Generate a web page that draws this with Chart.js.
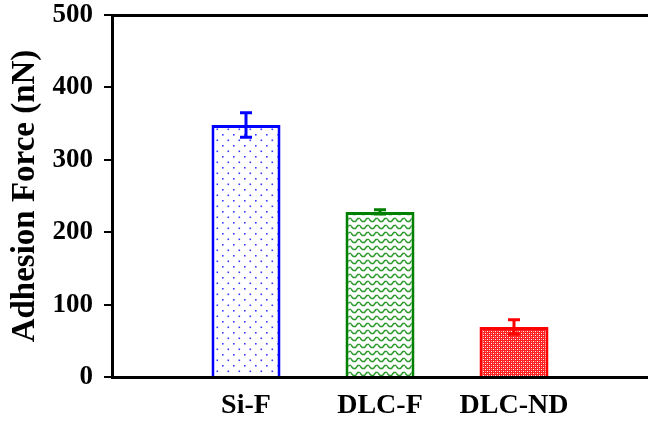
<!DOCTYPE html>
<html>
<head>
<meta charset="utf-8">
<script src="https://cdn.jsdelivr.net/npm/chart.js@4"></script>
<style>
  html, body { margin: 0; padding: 0; background: #ffffff; }
  #wrap { width: 648px; height: 423px; }
</style>
</head>
<body>
<div id="wrap"><canvas id="chart" width="648" height="423"></canvas></div>
<script>
// Sample categories (blank slots at both ends keep the bars off the axes)
const categories = ['', 'Si-F', 'DLC-F', 'DLC-ND', ''];
// Mean adhesion force (nN) and its spread
const adhesionForce = [null, 348, 228, 69, null];
const adhesionError = [null, 17, 3, 10, null];
const yTicks = [0, 100, 200, 300, 400, 500];

const edgeColors = [null, '#0000ff', '#008000', '#ff0000', null];

const ctx = document.getElementById('chart').getContext('2d');

function tile(w, h, paint) {
  const c = document.createElement('canvas');
  c.width = w; c.height = h;
  const g = c.getContext('2d');
  g.fillStyle = '#ffffff';
  g.fillRect(0, 0, w, h);
  paint(g);
  return ctx.createPattern(c, 'repeat');
}

// Blue stippled fill
const dotFill = tile(11, 11, g => {
  g.fillStyle = '#3a3aff';
  g.fillRect(2, 2, 1.6, 1.6);
  g.fillRect(7.5, 7.5, 1.6, 1.6);
});

// Green wavy fill
const waveFill = tile(9, 7, g => {
  g.strokeStyle = '#2f9b2f';
  g.lineWidth = 1.5;
  g.beginPath();
  g.moveTo(-0.5, 1.5);
  g.lineTo(2.25, 4.5);
  g.lineTo(4.5, 4.5);
  g.lineTo(6.75, 1.5);
  g.lineTo(9.5, 1.5);
  g.stroke();
});

// Red fine mesh fill
const meshFill = tile(4, 4, g => {
  g.fillStyle = '#ff2020';
  g.fillRect(0, 0, 4, 4);
  g.fillStyle = '#ffffff';
  g.fillRect(1, 1, 1, 1);
  g.fillRect(3, 3, 1, 1);
  g.fillStyle = '#ff8a8a';
  g.fillRect(3, 1, 1, 1);
  g.fillRect(1, 3, 1, 1);
});

const fills = [null, dotFill, waveFill, meshFill, null];

const FONT = '"Liberation Serif", "Times New Roman", serif';

function noPad(s) {
  s.paddingTop = 0; s.paddingBottom = 0;
  s.paddingLeft = 0; s.paddingRight = 0;
}

// Vertical error bars with caps, drawn in each bar's edge colour
const errorBars = {
  id: 'errorBars',
  afterDatasetsDraw(chart) {
    const meta = chart.getDatasetMeta(0);
    const y = chart.scales.y;
    const g = chart.ctx;
    g.save();
    adhesionForce.forEach((v, i) => {
      if (v === null) return;
      const e = adhesionError[i];
      const x = meta.data[i].x;
      const top = y.getPixelForValue(v + e);
      const bot = y.getPixelForValue(v - e);
      g.strokeStyle = edgeColors[i];
      g.lineWidth = 3;
      g.beginPath();
      g.moveTo(x, top); g.lineTo(x, bot);
      g.moveTo(x - 6, top); g.lineTo(x + 6, top);
      g.moveTo(x - 6, bot); g.lineTo(x + 6, bot);
      g.stroke();
    });
    g.restore();
  }
};

new Chart(ctx, {
  type: 'bar',
  data: {
    labels: categories,
    datasets: [{
      data: adhesionForce,
      backgroundColor: fills,
      borderColor: edgeColors,
      borderWidth: 3,
      borderSkipped: 'start',
      categoryPercentage: 1,
      barPercentage: 0.515
    }]
  },
  options: {
    responsive: false,
    animation: false,
    layout: { padding: 0 },
    plugins: { legend: { display: false }, tooltip: { enabled: false } },
    scales: {
      x: {
        offset: false,
        grid: { display: false, drawTicks: false },
        border: { display: true, color: '#000000', width: 3 },
        ticks: {
          color: '#000000',
          padding: 12,
          maxRotation: 0,
          autoSkip: false,
          font: { family: FONT, size: 28, weight: 'bold' }
        },
        afterFit(s) { s.height = 46; noPad(s); }
      },
      xTop: {
        position: 'top',
        grid: { display: false, drawTicks: false },
        border: { display: true, color: '#000000', width: 3 },
        ticks: { display: false },
        afterFit(s) { s.height = 15; noPad(s); }
      },
      y: {
        min: 0,
        max: 500,
        afterBuildTicks(s) { s.ticks = yTicks.map(v => ({ value: v })); },
        grid: { display: true, drawOnChartArea: false, drawTicks: true, tickLength: 8, color: '#000000', lineWidth: 2 },
        border: { display: true, color: '#000000', width: 3 },
        ticks: {
          color: '#000000',
          padding: 11,
          font: { family: FONT, size: 27, weight: 'bold' }
        },
        title: {
          display: true,
          text: 'Adhesion Force (nN)',
          color: '#000000',
          padding: { top: 6, bottom: 0 },
          font: { family: FONT, size: 33, weight: 'bold' }
        },
        afterFit(s) { s.width = 112; noPad(s); }
      }
    }
  },
  plugins: [errorBars]
});
</script>
</body>
</html>
